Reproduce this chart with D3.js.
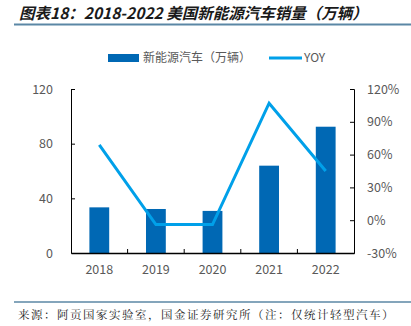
<!DOCTYPE html>
<html>
<head>
<meta charset="utf-8">
<script src="https://cdn.jsdelivr.net/npm/d3@7"></script>
<style>
  body { margin: 0; background: #fff; }
  svg { display: block; }
</style>
</head>
<body>
<script>
// data
var years = ["2018", "2019", "2020", "2021", "2022"];
var sales = [33.4, 32.2, 30.8, 63.9, 92.4];
var yoy = [69, -4, -4, 107, 45];
var leftTicks = [0, 40, 80, 120];
var rightTicks = [-30, 0, 30, 60, 90, 120];

var W = 411, H = 326;
var margin = {top: 89, right: 57, bottom: 73, left: 71},
    width = W - margin.left - margin.right,
    height = H - margin.top - margin.bottom;

var svg = d3.select("body").append("svg")
    .attr("width", W)
    .attr("height", H)
    .style("font-family", "'Microsoft YaHei', 'Noto Sans CJK SC', sans-serif");

// title
svg.append("text")
    .attr("x", 19).attr("y", 18.5)
    .attr("font-size", 15.5).attr("font-weight", "bold").attr("font-style", "italic")
    .attr("fill", "#1a1a1a")
    .text("图表18：2018-2022 美国新能源汽车销量（万辆）");
svg.append("line")
    .attr("x1", 14).attr("x2", W).attr("y1", 24.5).attr("y2", 24.5)
    .attr("stroke", "#5b87a5").attr("stroke-width", 2);

// legend
var lg = svg.append("g").attr("font-size", 12).attr("fill", "#595959");
lg.append("rect").attr("x", 108).attr("y", 54).attr("width", 31).attr("height", 8).attr("fill", "#0068b4");
lg.append("text").attr("x", 143).attr("y", 62).text("新能源汽车（万辆）");
lg.append("line").attr("x1", 269).attr("x2", 302).attr("y1", 58).attr("y2", 58)
    .attr("stroke", "#00a0e9").attr("stroke-width", 3);
lg.append("text").attr("x", 304).attr("y", 62).text("YOY");

var g = svg.append("g")
    .attr("transform", "translate(" + margin.left + "," + margin.top + ")");

// scales
var x = d3.scaleBand().domain(years).range([0, width]).paddingInner(0.65).paddingOuter(0.325);
var xb = d3.scaleBand().domain(years).range([0, width]);
var y = d3.scaleLinear().domain([0, 120]).range([height, 0]);
var y2 = d3.scaleLinear().domain([-30, 120]).range([height, 0]);

// bars
g.selectAll(".bar")
    .data(sales)
  .enter().append("rect")
    .attr("x", function(d, i) { return x(years[i]); })
    .attr("width", x.bandwidth())
    .attr("y", function(d) { return y(d); })
    .attr("height", function(d) { return height - y(d); })
    .attr("fill", "#0068b4");

// line
var line = d3.line()
    .x(function(d, i) { return xb(years[i]) + xb.bandwidth() / 2; })
    .y(function(d) { return y2(d); });
g.append("path")
    .datum(yoy)
    .attr("d", line)
    .attr("fill", "none")
    .attr("stroke", "#00a0e9")
    .attr("stroke-width", 3);

// axes
function styleAxis(sel) {
  sel.selectAll("path, line").attr("stroke", "#000");
  sel.selectAll("text").attr("fill", "#595959").attr("font-size", 12.5)
      .style("font-family", "'Microsoft YaHei', 'Noto Sans CJK SC', sans-serif");
}

var xAxis = g.append("g")
    .attr("transform", "translate(0," + height + ")")
    .call(d3.axisBottom(xb).tickSize(0).tickPadding(12));
styleAxis(xAxis);
xAxis.select(".domain").attr("stroke-width", 1.5);
// inward ticks at band edges
g.selectAll(".xt")
    .data(years.slice(1))
  .enter().append("line")
    .attr("x1", function(d) { return xb(d); })
    .attr("x2", function(d) { return xb(d); })
    .attr("y1", height).attr("y2", height - 4)
    .attr("stroke", "#000");

var yAxis = g.append("g")
    .call(d3.axisLeft(y).tickValues(leftTicks).tickSizeInner(-4).tickSizeOuter(-4).tickPadding(18));
styleAxis(yAxis);
yAxis.selectAll(".tick").filter(function(d) { return d === 0; }).select("line").remove();

var yAxis2 = g.append("g")
    .attr("transform", "translate(" + width + ",0)")
    .call(d3.axisRight(y2).tickValues(rightTicks).tickSizeInner(-4).tickSizeOuter(-4).tickPadding(13)
      .tickFormat(function(d) { return d + "%"; }));
styleAxis(yAxis2);

// source
svg.append("line")
    .attr("x1", 14).attr("x2", W).attr("y1", 302).attr("y2", 302)
    .attr("stroke", "#5b87a5").attr("stroke-width", 1.5);
svg.append("text")
    .attr("x", 18).attr("y", 318.5)
    .attr("font-size", 11.5).attr("fill", "#1a1a1a")
    .attr("letter-spacing", 1.5)
    .style("font-family", "'Noto Serif CJK SC', 'Noto Sans CJK SC', serif")
    .text("来源：阿贡国家实验室，国金证券研究所（注：仅统计轻型汽车）");
</script>
</body>
</html>
